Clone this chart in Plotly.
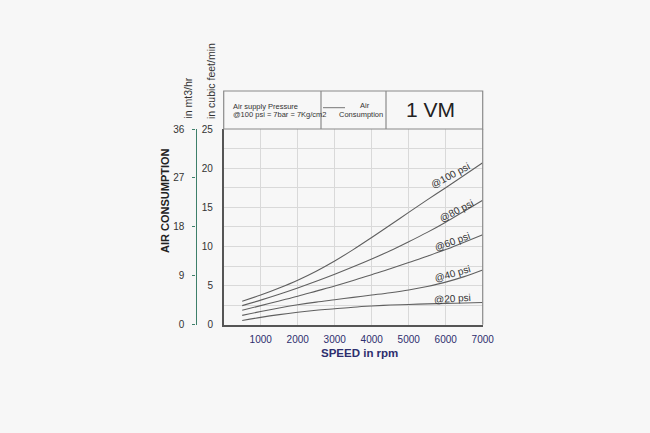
import plotly.graph_objects as go

W, H = 650, 433

rpm = [500, 1000, 1500, 2000, 2500, 3000, 3500, 4000, 4500, 5000, 5500, 6000, 6500, 7000]
psi_100 = [3.0, 3.8, 4.7, 5.7, 6.85, 8.15, 9.6, 11.15, 12.75, 14.35, 15.95, 17.5, 19.1, 20.7]
psi_80 = [2.45, 3.15, 3.9, 4.7, 5.55, 6.45, 7.4, 8.4, 9.45, 10.6, 11.8, 13.1, 14.5, 15.9]
psi_60 = [1.85, 2.45, 3.05, 3.65, 4.3, 4.95, 5.65, 6.4, 7.15, 7.95, 8.75, 9.6, 10.55, 11.5]
psi_40 = [1.2, 1.7, 2.15, 2.55, 2.9, 3.2, 3.5, 3.8, 4.1, 4.45, 4.9, 5.45, 6.15, 7.0]
psi_20 = [0.55, 0.95, 1.3, 1.6, 1.85, 2.05, 2.25, 2.4, 2.52, 2.6, 2.67, 2.73, 2.79, 2.85]

series = [("@100 psi", psi_100), ("@80 psi", psi_80), ("@60 psi", psi_60),
          ("@40 psi", psi_40), ("@20 psi", psi_20)]

# curve label positions (rpm, cfm, angle)
label_pos = {"@100 psi": (6120, 19.1, -28), "@80 psi": (6300, 14.6, -27),
             "@60 psi": (6190, 10.6, -20), "@40 psi": (6190, 6.55, -16),
             "@20 psi": (6190, 3.35, -4)}

x_ticks = [1000, 2000, 3000, 4000, 5000, 6000, 7000]
y_ticks = [0, 5, 10, 15, 20, 25]
y2_ticks = [0, 9, 18, 27, 36]

# pixel geometry
L, R, T, B = 223.7, 482.7, 129.0, 324.8
def px(x): return x / W
def py(y): return 1 - y / H

fig = go.Figure()
for name, vals in series:
    fig.add_trace(go.Scatter(x=rpm, y=vals, mode="lines", name=name,
                             line=dict(color="#606060", width=1.1, shape="spline", smoothing=1.0),
                             showlegend=False, hoverinfo="skip"))
    lx, ly, ang = label_pos[name]
    fig.add_annotation(x=lx, y=ly, xref="x", yref="y", text=name, showarrow=False,
                       textangle=ang, font=dict(family="Arial", size=10, color="#333"))

# dummy trace for secondary axis
fig.add_trace(go.Scatter(x=[None], y=[None], yaxis="y2", showlegend=False))

grid = "#d9d9d9"
fig.update_layout(
    width=W, height=H,
    margin=dict(l=0, r=0, t=0, b=0, autoexpand=False),
    showlegend=False,
    paper_bgcolor="#f7f7f7", plot_bgcolor="#f7f7f7",
    font=dict(family="Arial", color="#333"),
    xaxis=dict(domain=[px(L), px(R)], range=[0, 7000], tickvals=x_ticks, automargin=False,
               ticktext=[str(v) for v in x_ticks], showgrid=True, gridcolor=grid,
               gridwidth=1, zeroline=False, showline=True, linecolor="#555", linewidth=1.5,
               ticks="outside", ticklen=4, tickcolor="rgba(0,0,0,0)",
               tickfont=dict(size=10, color="#2e2e6e", family="Arial")),
    yaxis=dict(domain=[py(B), py(T)], range=[0, 25], tickvals=y_ticks, automargin=False,
               showgrid=True, gridcolor=grid, gridwidth=1, zeroline=False,
               showline=True, linecolor="#555", linewidth=1.5,
               ticks="outside", ticklen=7, tickcolor="rgba(0,0,0,0)",
               tickfont=dict(size=10, color="#333", family="Arial"),
               minor=dict(dtick=2.5, showgrid=True, gridcolor=grid, gridwidth=1)),
    yaxis2=dict(overlaying="y", anchor="free", position=px(195.5), side="left", automargin=False,
                range=[0, 36], tickvals=y2_ticks, showgrid=False, zeroline=False,
                showline=True, linecolor="#3e7f6a", linewidth=1.2,
                ticks="outside", ticklen=3, tickcolor="#3e7f6a", tickwidth=1.2,
                ticklabelstandoff=6,
                tickfont=dict(size=10, color="#333", family="Arial")),
)

# right border of plot
fig.add_shape(type="line", xref="paper", yref="paper", x0=px(R), x1=px(R), y0=py(B), y1=py(T),
              line=dict(color="#8a8a8a", width=1.2))
# header box
box_top = 91.0
fig.add_shape(type="rect", xref="paper", yref="paper", x0=px(L), x1=px(R), y0=py(T), y1=py(box_top),
              line=dict(color="#8a8a8a", width=1.2), fillcolor="rgba(0,0,0,0)")
for xd in (321.0, 386.0):
    fig.add_shape(type="line", xref="paper", yref="paper", x0=px(xd), x1=px(xd), y0=py(T), y1=py(box_top),
                  line=dict(color="#8a8a8a", width=1.2))
fig.add_shape(type="line", xref="paper", yref="paper", x0=px(323), x1=px(345), y0=py(107.7), y1=py(107.7),
              line=dict(color="#777", width=1))

def ann(text, x, y, size, xanchor="center", yanchor="middle", angle=0, color="#333", bold=False):
    t = f"<b>{text}</b>" if bold else text
    fig.add_annotation(x=px(x), y=py(y), xref="paper", yref="paper", text=t, showarrow=False,
                       xanchor=xanchor, yanchor=yanchor, textangle=angle,
                       font=dict(family="Arial", size=size, color=color))

ann("Air supply Pressure", 231, 106, 7.5, xanchor="left")
ann("@100 psi = 7bar = 7Kg/cm2", 231, 115, 7.5, xanchor="left")
ann("Air", 365, 105, 7.5)
ann("Consumption", 384.5, 114, 7.5, xanchor="right")
ann("1 VM", 430, 110, 21, color="#222")

ann("in mt3/hr", 188, 121, 10.5, yanchor="bottom", angle=-90)
ann("in cubic feet/min", 211, 121, 10.5, yanchor="bottom", angle=-90)
ann("AIR CONSUMPTION", 165, 201, 11, angle=-90, color="#222", bold=True)
ann("SPEED in rpm", 359, 353, 11.5, color="#2e2e6e", bold=True)

fig.write_html("out.html")
